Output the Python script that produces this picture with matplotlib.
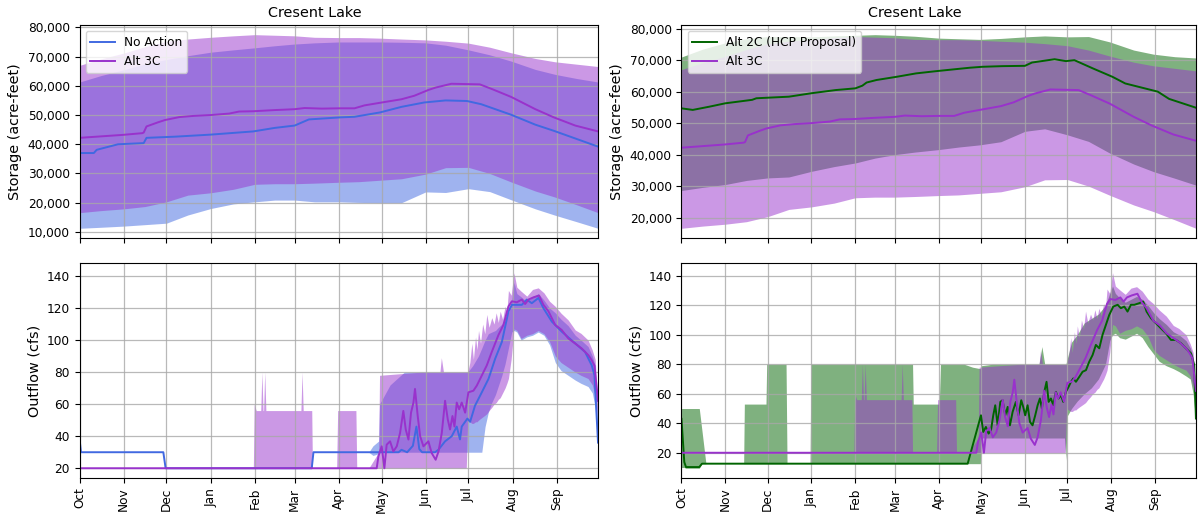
import numpy as np
import pandas as pd
import matplotlib
matplotlib.use("Agg")
import matplotlib.pyplot as plt
import matplotlib.dates as mdates
from matplotlib.ticker import FuncFormatter, MultipleLocator

# ---------------------------------------------------------------- data
# Day offsets are counted from 1 October of the water year.

# Storage (acre-feet): median lines
na_stor_day = [0, 10, 12, 27, 45, 47, 67, 92, 122, 137, 151, 161, 183, 193, 211, 226,
               242, 257, 272, 282, 303, 320, 333, 364]
na_stor_med = [37000, 37000, 38100, 40000, 40400, 42200, 42600, 43300, 44400, 45600,
               46400, 48500, 49200, 49400, 50900, 52800, 54300, 55000, 54800, 53700,
               50100, 46700, 44600, 39200]

a3_stor_day = [0, 15, 30, 44, 45, 47, 55, 60, 70, 80, 92, 105, 112, 122, 137, 151, 158,
               170, 182, 193, 200, 211, 226, 235, 245, 250, 261, 281, 290, 303, 320, 333,
               348, 364]
a3_stor_med = [42200, 42700, 43200, 43800, 44000, 46100, 47500, 48300, 49300, 49700,
               50000, 50500, 51200, 51300, 51700, 52000, 52400, 52200, 52300, 52300,
               53300, 54200, 55400, 56600, 58600, 59400, 60700, 60500, 58800, 56200,
               52000, 49200, 46400, 44400]

a2_stor_day = [0, 8, 20, 31, 50, 53, 62, 76, 92, 109, 123, 128, 131, 138, 152, 166, 180,
               204, 213, 227, 243, 248, 264, 272, 278, 291, 305, 314, 337, 345, 364]
a2_stor_med = [54700, 54200, 55250, 56300, 57400, 57900, 58100, 58400, 59500, 60500,
               61050, 61900, 62900, 63700, 64700, 65800, 66500, 67600, 67900, 68100,
               68200, 69250, 70300, 69700, 70000, 67400, 64700, 62600, 60000, 57700, 54900]

# Storage ranges (min / max across traces)
band_day = [0, 15, 31, 46, 61, 76, 92, 108, 123, 137, 151, 165, 182, 196, 211, 226, 243,
            257, 273, 288, 303, 320, 334, 349, 364]
na_stor_lo = [11250, 11600, 12000, 12500, 13000, 15800, 18000, 19600, 20300, 20900, 20900,
              20300, 20300, 20100, 20000, 20000, 23700, 23500, 24800, 23800, 21000, 17900,
              15700, 13500, 11250]
na_stor_hi = [61300, 63500, 65500, 67500, 69000, 70300, 71500, 72300, 73000, 73700, 74300,
              74700, 75000, 75000, 75000, 74900, 74700, 73900, 72300, 70600, 68450, 65600,
              63900, 62500, 61300]
a3_stor_lo = [16600, 17300, 17900, 18700, 20300, 22600, 23400, 24600, 26300, 26500, 26500,
              26700, 27000, 27200, 27700, 28200, 29800, 32000, 32100, 30000, 27100, 24000,
              21900, 19300, 16600]
a3_stor_hi = [67000, 69200, 71200, 73400, 75200, 76000, 76600, 77100, 77500, 77300, 77100,
              76600, 76500, 76500, 76300, 76000, 75700, 75250, 74600, 73200, 71300, 69350,
              68200, 67400, 66600]
a2_stor_lo = [28600, 29600, 30500, 31800, 32600, 32900, 34700, 36200, 37350, 38900, 40000,
              40800, 41600, 42400, 43100, 44100, 47400, 48200, 46300, 44200, 40500, 37000,
              34600, 32500, 30300]
a2_stor_hi = [71000, 73500, 75500, 76800, 77500, 77500, 77400, 77700, 77900, 78100, 77900,
              77600, 77000, 76800, 76600, 76900, 77400, 77700, 77400, 77500, 75800, 73200,
              71900, 71100, 70700]

# Outflow (cfs): median lines
na_flow_day = [0, 1, 58.8, 60.4, 163, 164.2, 224, 226, 230, 234, 236.5, 238.5, 240.5,
               249.6, 252, 256.6, 261.3, 264.8, 267.1, 268.3, 272.3, 274.2, 277.6, 282.4,
               287.1, 291.8, 296.5, 301.1, 303.5, 310.5, 314, 317.5, 322.2, 325.6, 331.5,
               338.5, 347.9, 354.9, 359.6, 361.5, 364]
na_flow_med = [38, 30, 30, 20, 20, 30, 30, 31.5, 30, 34, 46, 32, 30, 30, 31.6, 36.8, 40, 46,
               38, 46, 51, 49, 59, 67.4, 75.8, 88.4, 98.9, 117.9, 122, 122, 125.3, 123,
               126.3, 120, 111.6, 105.3, 98, 92.6, 84.2, 78, 36]

a3_flow_day = [0, 208.6, 209.8, 212.1, 214, 215.6, 218, 220.3, 222.7, 225, 227.3, 229,
               230.9, 232.7, 234.4, 235.5, 237.4, 239.1, 241.4, 244.9, 247.2, 250, 252,
               254.3, 256.6, 258.5, 260.1, 261.8, 263.2, 264.8, 266.5, 268.3, 270.7, 273,
               276.5, 278.9, 282.4, 285.9, 289.4, 294.1, 297.6, 301.1, 303.5, 307, 310.5,
               312.8, 315.2, 318.7, 322.6, 325.6, 329.2, 333.9, 338.5, 343.2, 347.9, 352.6,
               357.3, 359.6, 361.5, 364]
a3_flow_med = [20, 20, 27.4, 33.7, 20, 34.7, 36.8, 30.5, 33.7, 42, 55.8, 44.2, 37.9, 54.7,
               61, 69.5, 52.6, 40, 33.7, 36.8, 29.5, 25.3, 30.5, 42, 62.1, 50.5, 44.2, 52.6,
               46, 61, 56.8, 61, 54.7, 67.4, 68.4, 71.6, 77.9, 84.2, 92.6, 103.2, 109.5, 121,
               124.2, 123.6, 125.3, 122.5, 125.3, 126.7, 127.8, 122.1, 117.9, 109.5, 106.3,
               101, 97.9, 94.7, 90.5, 87.4, 84, 62]

a2_flow_day = [0, 2, 3.2, 12.6, 14.5, 202.5, 211.9, 213.5, 215.4, 217.3, 219, 220.6, 222,
               223.7, 225.6, 227.2, 229.1, 230.8, 232.4, 234.3, 236.6, 238.5, 240.4, 241.8,
               243.2, 244.9, 246.6, 248.4, 250.3, 252, 253.6, 255, 256.7, 258.3, 259.8,
               261.4, 263.1, 264.9, 266.8, 268.5, 270.1, 272, 273.9, 275.6, 277.2, 279.1,
               281.5, 283.8, 286.2, 288.5, 290.9, 293.2, 295.6, 297.9, 300.3, 302.7, 305.5,
               308.6, 310.9, 313.3, 315.6, 318, 320.4, 323.9, 326.7, 329.1, 332.2, 335.7,
               339.2, 342.8, 346.3, 349.8, 353.4, 356.9, 360.5, 362.8, 364]
a2_flow_med = [43, 13.7, 10.3, 10.3, 12.6, 12.6, 45.4, 34.1, 37.5, 33, 35.2, 45.4, 52.2,
               38.6, 54.5, 55.6, 45.4, 51.1, 38.6, 47.7, 54.5, 45.4, 55.6, 51.1, 45.4, 52.2,
               40.9, 38.6, 45.4, 52.2, 56.8, 50, 61.3, 68.1, 54.5, 56.8, 52.2, 61.3, 56.8,
               59, 54.5, 61.3, 64.7, 68.1, 70.4, 68.1, 71.5, 74.9, 76, 81.7, 86.3, 93.1,
               90.8, 99.9, 106.7, 113.5, 119.1, 120.3, 118, 119.1, 115.7, 120.3, 120.3,
               121.4, 122.5, 115.7, 111.2, 107.8, 104.4, 101, 96.5, 96.5, 94.2, 90.8, 87.4,
               79.5, 43.2]

# Outflow ranges
na_fband_day = [0, 1, 58.8, 60.4, 163, 164.2, 203, 206, 210, 210.6, 218, 228, 271.5, 272.5,
                276, 280, 282.4, 284.7, 287, 289.4, 292, 294.1, 296.5, 298.7, 301.1, 303.4,
                305, 307, 310, 314, 318, 322, 326, 330, 334, 338, 343, 348, 352, 357, 360,
                362, 364]
na_flow_lo = [38, 30, 30, 20, 20, 30, 30, 28, 29, 30, 30, 30, 30, 30, 30, 30, 30, 46, 55,
              61, 66, 71.6, 78, 85, 95, 105, 106, 105, 100, 102, 103, 105, 103, 97, 86, 81,
              78, 75, 73, 71, 67, 58, 35]
na_flow_hi = [38, 30, 30, 20, 20, 30, 30, 34, 37, 60, 72, 80, 80, 80, 84, 90, 95, 100, 104,
              105, 106, 108, 110, 114, 117, 125, 136, 129, 127, 124, 127, 129, 125, 120,
              117, 113, 109, 103, 100, 96, 90, 84, 40]

a3_fband_day = [0, 122, 122.6, 124, 127.2, 128, 128.8, 129.2, 130, 130.8, 155.4, 156.2,
                157, 163, 163.5, 180.5, 181.2, 194, 194.6, 203, 210, 210.6, 225, 240, 253,
                254, 255.5, 271.5, 272.5, 274, 275.4, 276.5, 278, 279, 280.1, 281.5, 283,
                284.5, 285.9, 287.5, 289.4, 291, 292.5, 294, 295.3, 297, 298.7, 300, 301.1,
                303, 305, 307, 310, 314, 318, 322, 326, 330, 334, 338, 343, 348, 352, 357,
                360, 362, 364]
a3_flow_lo = [20, 20, 20, 20, 20, 20, 20, 20, 20, 20, 20, 20, 20, 20, 20, 20, 20, 20, 20,
              20, 20, 20, 20, 20, 20, 20, 20, 20, 50, 49, 48, 48, 49, 49, 50, 51, 52, 53,
              54, 56, 58, 60, 61, 63, 64, 67, 70, 73, 76, 88, 107, 106, 101, 103, 104, 106,
              104, 99, 90, 86, 83, 80, 78, 76, 72, 65, 50]
a3_flow_hi = [20, 20, 60, 56, 56, 80, 56, 56, 80, 56, 56, 80, 56, 56, 20, 20, 56, 56, 20,
              20, 30, 78, 79, 80, 80, 89, 80, 80, 80, 86, 98, 88, 102, 94, 106, 98, 110,
              104, 116, 108, 114, 110, 117, 111, 118, 113, 121, 118, 131, 128, 142, 133,
              130.5, 127.4, 131.6, 132.6, 129.5, 124.2, 121, 116.8, 112.6, 106.3, 104.2,
              100, 93.7, 88, 60]

a2_fband_day = [0, 2, 3, 12.6, 14.5, 17.3, 44, 44.5, 59.8, 60.3, 74, 74.7, 91, 91.6, 163.5,
                164, 182.4, 183.3, 200, 206, 211.5, 212.2, 220, 253, 255, 257, 271, 272,
                273, 276, 280, 285, 290, 295, 300, 303, 305, 307, 310, 314, 318, 322, 326,
                330, 334, 338, 343, 348, 352, 357, 360, 362, 364]
a2_flow_lo = [10, 10, 9.5, 9.5, 12.6, 12.6, 12.6, 12.6, 12.6, 12.6, 12.6, 12.6, 12.6, 12.6,
              12.6, 12.6, 12.6, 12.6, 12.6, 12.6, 12.6, 30, 30, 30, 30, 30, 30, 15, 45, 50,
              55, 60, 64, 70, 80, 96, 100, 101, 98, 97, 99, 101, 98, 92, 87, 82, 79, 77, 75,
              72, 70, 60, 40]
a2_flow_hi = [50, 50, 50, 50, 35, 12.6, 12.6, 53, 53, 80, 80, 12.6, 12.6, 80, 80, 53, 53, 80,
              80, 78, 77, 79, 80, 80, 92, 80, 80, 80, 84, 95, 100, 108, 111, 114, 120, 128,
              133, 128, 125, 122, 124, 126, 124, 120, 115, 111, 107, 102, 100, 96, 91, 85, 48]

TITLE = "Cresent Lake"
WY_START = pd.Timestamp("2000-10-01")

C_NA = "royalblue"
C_A3 = "darkorchid"
C_A2 = "darkgreen"

# ---------------------------------------------------------------- helpers
def dates(days):
    return WY_START + pd.to_timedelta(np.asarray(days, dtype=float), unit="D")

TICK_FS = 8.7
LABEL_FS = 10.4
LW = 1.4

plt.rcParams["font.family"] = ["DejaVu Sans"]


def style_axis(ax, ylabel, show_xlabels):
    ax.grid(True, color="#a8a8a8", linewidth=0.9, alpha=0.8)
    ax.set_ylabel(ylabel, fontsize=LABEL_FS)
    ax.tick_params(labelsize=TICK_FS)
    ax.xaxis.set_major_locator(mdates.MonthLocator())
    ax.xaxis.set_major_formatter(mdates.DateFormatter("%b"))
    ax.set_xlim(dates([0])[0], dates([364])[0])
    if show_xlabels:
        for lbl in ax.get_xticklabels():
            lbl.set_rotation(90)
    else:
        ax.tick_params(labelbottom=False)


def band(ax, day, lo, hi, color):
    ax.fill_between(dates(day), lo, hi, color=color, alpha=0.5, linewidth=0)


fig = plt.figure(figsize=(12.04, 5.14), dpi=100)
ax_tl = fig.add_axes([0.0661, 0.537, 0.4306, 0.4144])
ax_bl = fig.add_axes([0.0661, 0.070, 0.4306, 0.4183], sharex=ax_tl)
ax_tr = fig.add_axes([0.566, 0.537, 0.4273, 0.4144])
ax_br = fig.add_axes([0.566, 0.070, 0.4273, 0.4183], sharex=ax_tr)

thousands = FuncFormatter(lambda v, p: f"{v:,.0f}")

# ---- left column: No Action vs Alt 3C
band(ax_tl, band_day, na_stor_lo, na_stor_hi, C_NA)
band(ax_tl, band_day, a3_stor_lo, a3_stor_hi, C_A3)
ax_tl.plot(dates(na_stor_day), na_stor_med, color=C_NA, lw=LW, label="No Action")
ax_tl.plot(dates(a3_stor_day), a3_stor_med, color=C_A3, lw=LW, label="Alt 3C")
ax_tl.set_title(TITLE, fontsize=LABEL_FS, x=0.453)
ax_tl.yaxis.set_major_locator(MultipleLocator(10000))
ax_tl.yaxis.set_major_formatter(thousands)
ax_tl.legend(loc="upper left", fontsize=TICK_FS)
style_axis(ax_tl, "Storage (acre-feet)", False)

band(ax_bl, na_fband_day, na_flow_lo, na_flow_hi, C_NA)
band(ax_bl, a3_fband_day, a3_flow_lo, a3_flow_hi, C_A3)
ax_bl.plot(dates(na_flow_day), na_flow_med, color=C_NA, lw=LW)
ax_bl.plot(dates(a3_flow_day), a3_flow_med, color=C_A3, lw=LW)
ax_bl.yaxis.set_major_locator(MultipleLocator(20))
style_axis(ax_bl, "Outflow (cfs)", True)

# ---- right column: Alt 2C vs Alt 3C
band(ax_tr, band_day, a2_stor_lo, a2_stor_hi, C_A2)
band(ax_tr, band_day, a3_stor_lo, a3_stor_hi, C_A3)
ax_tr.plot(dates(a2_stor_day), a2_stor_med, color=C_A2, lw=LW, label="Alt 2C (HCP Proposal)")
ax_tr.plot(dates(a3_stor_day), a3_stor_med, color=C_A3, lw=LW, label="Alt 3C")
ax_tr.set_title(TITLE, fontsize=LABEL_FS, x=0.453)
ax_tr.yaxis.set_major_locator(MultipleLocator(10000))
ax_tr.yaxis.set_major_formatter(thousands)
ax_tr.legend(loc="upper left", fontsize=TICK_FS)
style_axis(ax_tr, "Storage (acre-feet)", False)

band(ax_br, a2_fband_day, a2_flow_lo, a2_flow_hi, C_A2)
band(ax_br, a3_fband_day, a3_flow_lo, a3_flow_hi, C_A3)
ax_br.plot(dates(a2_flow_day), a2_flow_med, color=C_A2, lw=LW)
ax_br.plot(dates(a3_flow_day), a3_flow_med, color=C_A3, lw=LW)
ax_br.yaxis.set_major_locator(MultipleLocator(20))
style_axis(ax_br, "Outflow (cfs)", True)

fig.savefig("out.png", dpi=100)
